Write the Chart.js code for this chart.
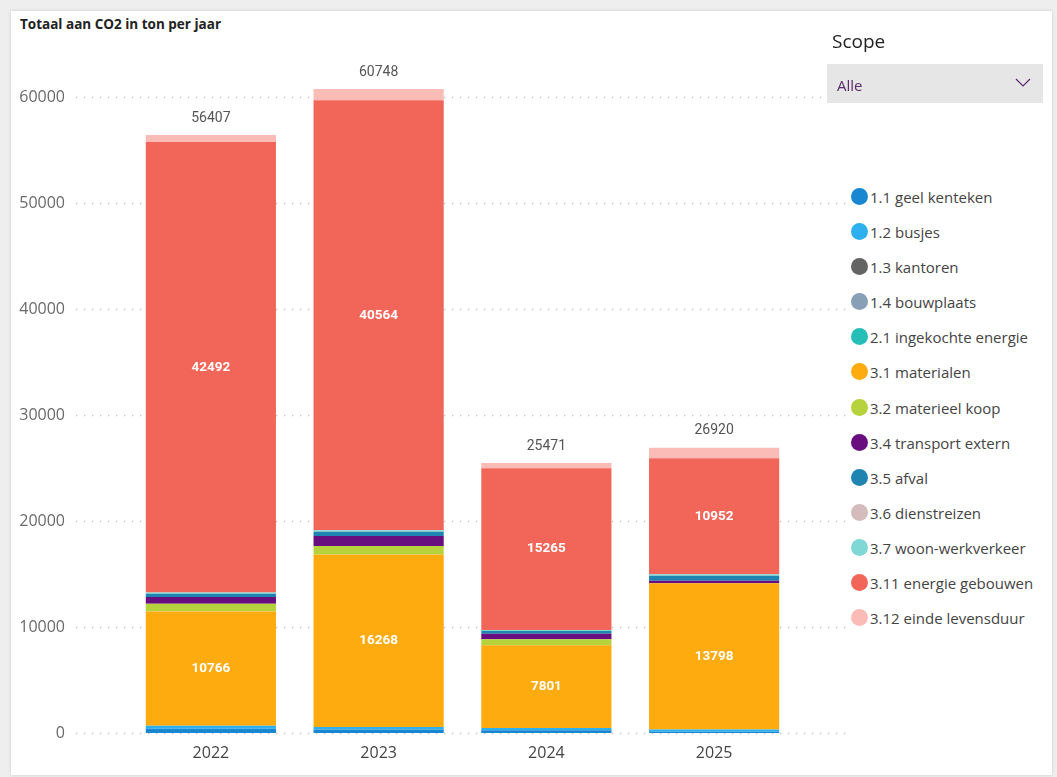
<!DOCTYPE html>
<html>
<head>
<meta charset="utf-8">
<script src="https://cdn.jsdelivr.net/npm/chart.js@4"></script>
<style>
  body { margin: 0; background: #eeeeee; width: 1057px; height: 777px; overflow: hidden; font-family: 'Segoe UI', 'Open Sans', sans-serif; }
  .kaart { position: absolute; left: 11px; top: 11px; width: 1041px; height: 764px; background: #fff; box-shadow: 0 0 3px rgba(0,0,0,0.15); }
  .titel { position: absolute; left: 20px; top: 15px; font-size: 13.5px; font-weight: bold; color: #222; }
  #grafiek { position: absolute; left: 0; top: 0; width: 850px; height: 777px; }
  .scope { position: absolute; left: 832px; top: 28px; font-size: 19px; color: #222; }
  .dropdown { position: absolute; left: 827px; top: 64px; width: 216px; height: 39px; background: #e6e6e6; }
  .dropdown span { position: absolute; left: 10px; top: 11px; font-size: 15px; color: #5a2a6a; }
  .dropdown svg { position: absolute; right: 12px; top: 14px; }
  .legenda { position: absolute; left: 851px; top: 187px; }
  .item { height: 35.1px; display: flex; align-items: flex-start; font-size: 15px; color: #444; white-space: nowrap; }
  .bol { width: 17px; height: 17px; border-radius: 50%; margin-right: 2px; margin-top: 1px; }
</style>
</head>
<body>
<div class="kaart"></div>
<div class="titel">Totaal aan CO2 in ton per jaar</div>
<canvas id="grafiek" width="850" height="777"></canvas>
<div class="scope">Scope</div>
<div class="dropdown"><span>Alle</span>
  <svg width="16" height="10" viewBox="0 0 16 10"><polyline points="1,1 8,8 15,1" fill="none" stroke="#5a2a6a" stroke-width="1.2"/></svg>
</div>
<div class="legenda" id="legenda"></div>

<script>
// data
const jaren = ['2022', '2023', '2024', '2025']
const geelKenteken = [400, 330, 260, 120]
const busjes = [290, 240, 210, 200]
const kantoren = [0, 0, 0, 0]
const bouwplaats = [0, 0, 0, 0]
const ingekochteEnergie = [0, 0, 0, 0]
const materialen = [10766, 16268, 7801, 13798]
const materieelKoop = [740, 815, 565, 0]
const transportExtern = [640, 940, 530, 250]
const afval = [310, 400, 250, 470]
const dienstreizen = [0, 0, 0, 0]
const woonWerkverkeer = [120, 140, 100, 140]
const energieGebouwen = [42492, 40564, 15265, 10952]
const eindeLevensduur = [649, 1051, 490, 990]
const yTicks = [0, 10000, 20000, 30000, 40000, 50000, 60000]

const scopes = [
  ['1.1 geel kenteken', geelKenteken, '#1886d1'],
  ['1.2 busjes', busjes, '#2eb0ee'],
  ['1.3 kantoren', kantoren, '#646464'],
  ['1.4 bouwplaats', bouwplaats, '#88a0b6'],
  ['2.1 ingekochte energie', ingekochteEnergie, '#25bfb8'],
  ['3.1 materialen', materialen, '#feab10'],
  ['3.2 materieel koop', materieelKoop, '#b6d23c'],
  ['3.4 transport extern', transportExtern, '#680e7e'],
  ['3.5 afval', afval, '#1f84b0'],
  ['3.6 dienstreizen', dienstreizen, '#d5bcbc'],
  ['3.7 woon-werkverkeer', woonWerkverkeer, '#7fd7d6'],
  ['3.11 energie gebouwen', energieGebouwen, '#f2665a'],
  ['3.12 einde levensduur', eindeLevensduur, '#fbbcb8']
]
const metLabel = ['3.1 materialen', '3.11 energie gebouwen']

document.addEventListener('DOMContentLoaded', function () {

  const legenda = document.getElementById('legenda')
  scopes.forEach(function (s) {
    legenda.innerHTML += '<div class="item"><div class="bol" style="background:' + s[2] + '"></div>' + s[0] + '</div>'
  })

  const canvas = document.getElementById('grafiek')

  // dotted gridlines over the full width
  const stippelLijnen = {
    id: 'stippelLijnen',
    beforeDatasetsDraw(chart) {
      const ctx = chart.ctx
      const y = chart.scales.y
      ctx.save()
      ctx.strokeStyle = '#c4c4c4'
      ctx.lineWidth = 1.3
      ctx.setLineDash([1.3, 6.7])
      yTicks.forEach(function (t) {
        const py = Math.round(y.getPixelForValue(t)) + 0.5
        ctx.beginPath()
        ctx.moveTo(76, py)
        ctx.lineTo(846, py)
        ctx.stroke()
      })
      ctx.restore()
    }
  }

  // values inside segments and totals on top
  const waardeLabels = {
    id: 'waardeLabels',
    afterDatasetsDraw(chart) {
      const ctx = chart.ctx
      ctx.save()
      ctx.textAlign = 'center'
      ctx.textBaseline = 'middle'
      ctx.font = 'bold 13.5px Roboto, sans-serif'
      ctx.fillStyle = '#ffffff'
      chart.data.datasets.forEach(function (ds, i) {
        if (metLabel.indexOf(ds.label) < 0) return
        chart.getDatasetMeta(i).data.forEach(function (bar, j) {
          ctx.fillText(String(ds.data[j]), bar.x, (bar.y + bar.base) / 2)
        })
      })
      ctx.font = '14px Roboto, sans-serif'
      ctx.fillStyle = '#555555'
      jaren.forEach(function (jaar, j) {
        let totaal = 0
        scopes.forEach(function (s) { totaal += s[1][j] })
        const x = chart.scales.x.getPixelForValue(j)
        const y = chart.scales.y.getPixelForValue(totaal)
        ctx.fillText(String(totaal), x, y - 17)
      })
      ctx.restore()
    }
  }

  new Chart(canvas, {
    type: 'bar',
    data: {
      labels: jaren,
      datasets: scopes.map(function (s) {
        return {
          label: s[0],
          data: s[1],
          backgroundColor: s[2],
          borderWidth: 0,
          categoryPercentage: 1,
          barPercentage: 0.776
        }
      })
    },
    options: {
      responsive: false,
      maintainAspectRatio: false,
      animation: false,
      devicePixelRatio: 1,
      layout: { padding: { left: 0, right: 52, top: 44, bottom: 14 } },
      plugins: { legend: { display: false }, tooltip: { enabled: false } },
      scales: {
        x: {
          stacked: true,
          grid: { display: false },
          border: { display: false },
          ticks: { color: '#444', font: { size: 16, family: "'Segoe UI', 'Open Sans', sans-serif" }, padding: 3 },
          afterFit(scale) { scale.height = 30 }
        },
        y: {
          stacked: true,
          min: 0,
          max: 65000,
          grid: { display: false },
          border: { display: false },
          afterBuildTicks(scale) { scale.ticks = yTicks.map(function (v) { return { value: v } }) },
          afterFit(scale) {
            scale.width = 127
            scale.paddingTop = 0
            scale.paddingBottom = 0
          },
          ticks: {
            color: '#6a6a6a',
            padding: 54,
            font: { size: 16, family: "'Segoe UI', 'Open Sans', sans-serif" },
            callback: function (v) { return String(v) }
          }
        }
      }
    },
    plugins: [stippelLijnen, waardeLabels]
  })
})
</script>
</body>
</html>
